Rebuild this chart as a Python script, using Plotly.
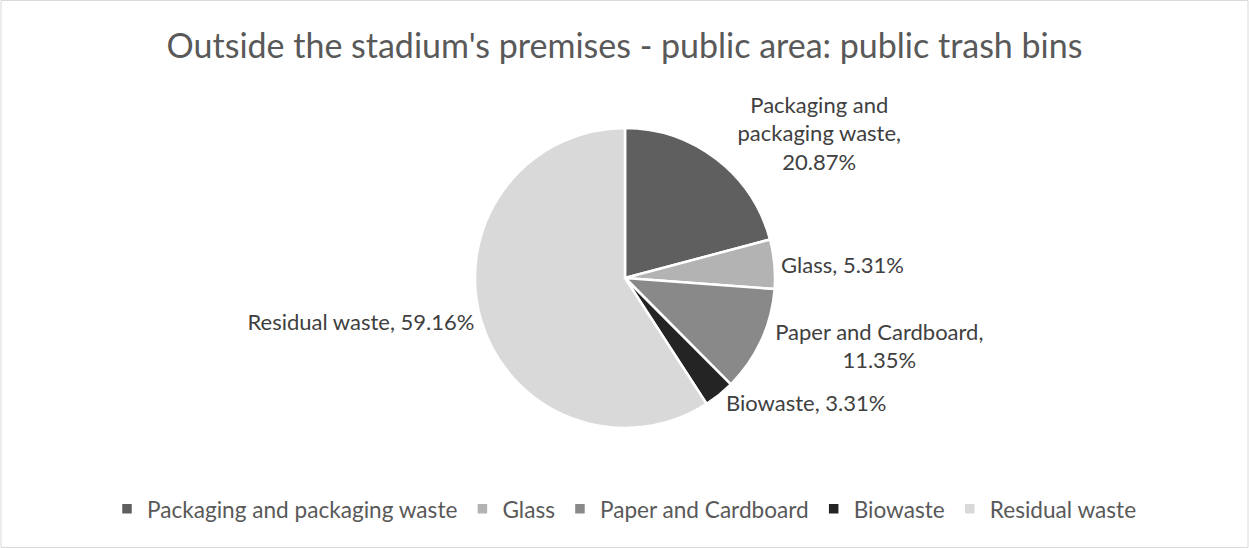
import plotly.graph_objects as go

categories = ["Packaging and packaging waste", "Glass", "Paper and Cardboard", "Biowaste", "Residual waste"]
shares = [20.87, 5.31, 11.35, 3.31, 59.16]
colors = ["#5f5f5f", "#b3b3b3", "#898989", "#242424", "#d9d9d9"]
label_text = ["Packaging and<br>packaging waste,<br>20.87%", "Glass, 5.31%",
              "Paper and Cardboard,<br>11.35%", "Biowaste, 3.31%", "Residual waste, 59.16%"]

W, H = 1249, 548
cx, cy, r = 625, 278, 150
FONT = "Lato, 'Open Sans', sans-serif"

fig = go.Figure(go.Pie(
    labels=categories,
    values=shares,
    text=label_text,
    texttemplate="%{text}",
    textposition="outside",
    textfont=dict(family=FONT, size=22, color="#404040"),
    marker=dict(colors=colors, line=dict(color="white", width=2.5)),
    sort=False,
    direction="clockwise",
    rotation=0,
    domain=dict(x=[(cx - r) / W, (cx + r) / W], y=[1 - (cy + r) / H, 1 - (cy - r) / H]),
    automargin=False,
    showlegend=True,
))

fig.update_layout(
    width=W, height=H,
    margin=dict(l=0, r=0, t=0, b=0),
    paper_bgcolor="white",
    plot_bgcolor="white",
    font=dict(family=FONT, color="#595959"),
    title=dict(text="Outside the stadium's premises - public area: public trash bins",
               x=0.5, xanchor="center", y=1 - 46 / H, yanchor="middle",
               font=dict(size=34, color="#595959")),
    legend=dict(orientation="h", x=0.5, xanchor="center", y=1 - 509 / H, yanchor="middle",
                font=dict(size=22.6, color="#595959"), itemwidth=30, traceorder="normal"),
    shapes=[dict(type="rect", xref="paper", yref="paper", x0=0.0008, y0=0.001, x1=0.9992, y1=0.999,
                 line=dict(color="#d9d9d9", width=1))],
)

fig.write_html("out.html")
